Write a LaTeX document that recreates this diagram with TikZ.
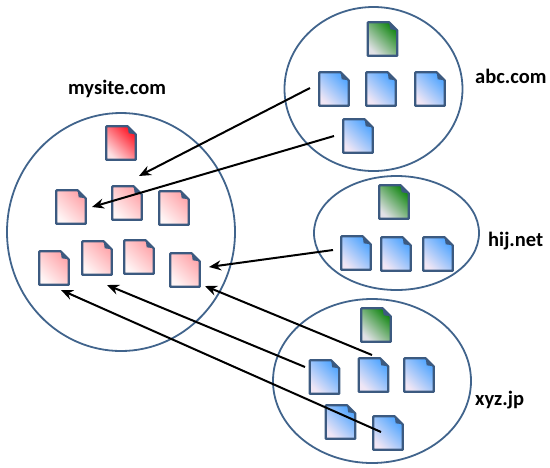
\documentclass[tikz,border=0pt]{standalone}
\usepackage{fontspec}
\setsansfont{Carlito}
\usepackage{xcolor}
\usetikzlibrary{arrows.meta}
\definecolor{qline}{RGB}{65,100,140}
\definecolor{qdoc}{RGB}{60,90,128}
\definecolor{qblue}{RGB}{80,165,255}
\definecolor{qbluel}{RGB}{240,230,245}
\definecolor{qgreen}{RGB}{20,135,20}
\definecolor{qgreenl}{RGB}{225,225,230}
\definecolor{qred}{RGB}{255,25,40}
\definecolor{qredl}{RGB}{253,225,228}
\definecolor{qpink}{RGB}{255,165,170}
\definecolor{qpinkl}{RGB}{255,245,245}
\tikzset{
  site/.style={draw=qline,line width=1.8pt},
  docbox/.style={minimum width=29pt,minimum height=33pt,inner sep=0pt},
  sitename/.style={font=\sffamily\bfseries\fontsize{20.5}{22}\selectfont,anchor=west,inner sep=0pt},
  link/.style={-{Stealth[length=12pt,width=10pt,inset=4pt]},line width=2pt,black},
}
% doc icon: name, centre, top right colour, bottom left colour
\newcommand{\docicon}[4]{
  \node[docbox] (#1) at (#2) {};
  \shade[top color=#3,bottom color=#4,shading angle=-45]
    (#1.south west) -- (#1.north west) -- ([xshift=-8pt]#1.north east) -- ([yshift=-8pt]#1.north east) -- (#1.south east) -- cycle;
  \draw[qdoc,line width=2.2pt,line join=round]
    (#1.south west) -- (#1.north west) -- ([xshift=-8pt]#1.north east) -- ([yshift=-8pt]#1.north east) -- (#1.south east) -- cycle;
  \fill[qdoc] ([xshift=-8pt]#1.north east) -- ([xshift=-7pt,yshift=-7pt]#1.north east) -- ([yshift=-8pt]#1.north east) -- cycle;
}
\begin{document}
\begin{tikzpicture}[x=1pt,y=-1pt]
\useasboundingbox (0,0) rectangle (550,467);

%sites:
\draw[site] (121,232) ellipse (114 and 119);
\draw[site] (373.5,89) ellipse (89 and 82);
\draw[site] (396.5,233) ellipse (82.5 and 57);
\draw[site] (372,381) ellipse (99 and 82);

\node[sitename] (mysite) at (68,89) {mysite.com};
\node[sitename] (abc) at (475,76) {abc.com};
\node[sitename] (hij) at (488,241) {hij.net};
\node[sitename] (xyz) at (475,400) {xyz.jp};

%mysite.com docs:
\docicon{mred}{121,143}{qred}{qredl}
\docicon{m1}{71,207}{qpink}{qpinkl}
\docicon{m2}{127,203}{qpink}{qpinkl}
\docicon{m3}{174,208}{qpink}{qpinkl}
\docicon{m4}{54,268}{qpink}{qpinkl}
\docicon{m5}{97,258}{qpink}{qpinkl}
\docicon{m6}{139,257}{qpink}{qpinkl}
\docicon{m7}{185,270}{qpink}{qpinkl}

%abc.com docs:
\docicon{agreen}{382.5,39}{qgreen}{qgreenl}
\docicon{a1}{334,89}{qblue}{qbluel}
\docicon{a2}{381,89}{qblue}{qbluel}
\docicon{a3}{430,89}{qblue}{qbluel}
\docicon{a4}{358,136}{qblue}{qbluel}

%hij.net docs:
\docicon{hgreen}{394,202}{qgreen}{qgreenl}
\docicon{h1}{356,253}{qblue}{qbluel}
\docicon{h2}{396,254}{qblue}{qbluel}
\docicon{h3}{438,254}{qblue}{qbluel}

%xyz.jp docs:
\docicon{xgreen}{376,325}{qgreen}{qgreenl}
\docicon{x1}{324.5,377}{qblue}{qbluel}
\docicon{x2}{373.5,375}{qblue}{qbluel}
\docicon{x3}{419,375}{qblue}{qbluel}
\docicon{x4}{340.5,422}{qblue}{qbluel}
\docicon{x5}{388,433}{qblue}{qbluel}

%links:
\coordinate (a1out) at (310,88);
\coordinate (a4out) at (334,136);
\coordinate (h1out) at (333,250);
\coordinate (x2out) at (372,355);
\coordinate (x1out) at (305,367);
\coordinate (x5out) at (381,432);
\coordinate (m2in) at (139,176);
\coordinate (m1in) at (92,207);
\coordinate (m7in) at (209,267);
\coordinate (m7low) at (205,286);
\coordinate (m5in) at (107,285);
\coordinate (m4in) at (61,290);

\draw[link] (a1out) -- (m2in);
\draw[link] (a4out) -- (m1in);
\draw[link] (h1out) -- (m7in);
\draw[link] (x2out) -- (m7low);
\draw[link] (x1out) -- (m5in);
\draw[link] (x5out) -- (m4in);

\end{tikzpicture}
\end{document}
